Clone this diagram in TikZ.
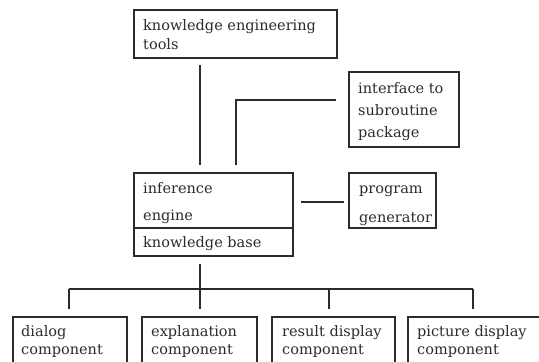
\documentclass[tikz,border=0pt]{standalone}
\usepackage{fontspec}
\setmainfont{DejaVu Serif}
\usetikzlibrary{calc}
\definecolor{ink}{HTML}{2B2B2B}
\begin{document}
\begin{tikzpicture}[x=1pt,y=-1pt,
  box/.style={draw=ink,line width=1.4pt,rectangle,inner sep=0pt,outer sep=0pt,anchor=north west},
  txt/.style={anchor=base west,inner sep=0pt,text=ink,font=\fontsize{14.5}{16}\selectfont},
  conn/.style={draw=ink,line width=1.4pt}]
\useasboundingbox (0,0) rectangle (539,362);
\clip (0,0) rectangle (539,362);
% boxes
\node[box,minimum width=203pt,minimum height=48pt] (ket) at (134,10) {};
\node[box,minimum width=110pt,minimum height=75pt] (iface) at (349,72) {};
\node[box,minimum width=159pt,minimum height=55pt] (eng) at (134,173) {};
\node[box,minimum width=159pt,minimum height=28pt] (kb) at (134,228) {};
\node[box,minimum width=87pt,minimum height=55pt] (prog) at (349,173) {};
\node[box,minimum width=114pt,minimum height=60pt] (b1) at (13,317) {};
\node[box,minimum width=115pt,minimum height=60pt] (b2) at (142,317) {};
\node[box,minimum width=123pt,minimum height=60pt] (b3) at (272,317) {};
\node[box,minimum width=140pt,minimum height=60pt] (b4) at (408,317) {};
% texts
\node[txt] (t1) at (143,30) {knowledge engineering};
\node[txt] (t2) at (143,49) {tools};
\node[txt] (t3) at (358,93) {interface to};
\node[txt] (t4) at (358,115) {subroutine};
\node[txt] (t5) at (358,137) {package};
\node[txt] (t6) at (143,193) {inference};
\node[txt] (t7) at (143,220) {engine};
\node[txt] (t8) at (143,247) {knowledge base};
\node[txt] (t9) at (359,193) {program};
\node[txt] (t10) at (359,222) {generator};
\node[txt] (t11) at (21,336) {dialog};
\node[txt] (t12) at (21,354) {component};
\node[txt] (t13) at (151,336) {explanation};
\node[txt] (t14) at (151,354) {component};
\node[txt] (t15) at (282,336) {result display};
\node[txt] (t16) at (282,354) {component};
\node[txt] (t17) at (417,336) {picture display};
\node[txt] (t18) at (417,354) {component};
% connectors
\coordinate (a1) at ($(ket.south west)+(66,0)$);
\coordinate (a2) at ($(eng.north west)+(66,0)$);
\draw[conn,shorten <=7pt,shorten >=8pt] (a1) -- (a2);
\coordinate (c1) at ($(iface.north west)+(0,28)$);
\coordinate (c2) at ($(eng.north west)+(102,0)$);
\draw[conn,shorten <=13pt,shorten >=8pt] (c1) -| (c2);
\coordinate (p1) at ($(eng.north east)+(0,29)$);
\coordinate (p2) at ($(prog.north west)+(0,29)$);
\draw[conn,shorten <=8pt,shorten >=5pt] (p1) -- (p2);
\coordinate (k1) at ($(kb.south west)+(66,0)$);
\coordinate (bus) at ($(k1)+(0,33)$);
\draw[conn,shorten <=8pt] (k1) -- (bus);
\coordinate (d1) at ($(b1.north west)+(56,0)$);
\coordinate (d2) at ($(b2.north west)+(58,0)$);
\coordinate (d3) at ($(b3.north west)+(57,0)$);
\coordinate (d4) at ($(b4.north west)+(65,0)$);
\draw[conn] (d1 |- bus) -- (d4 |- bus);
\foreach \d in {d1,d2,d3,d4}{\draw[conn,shorten >=8pt] (\d |- bus) -- (\d);}
\end{tikzpicture}
\end{document}
